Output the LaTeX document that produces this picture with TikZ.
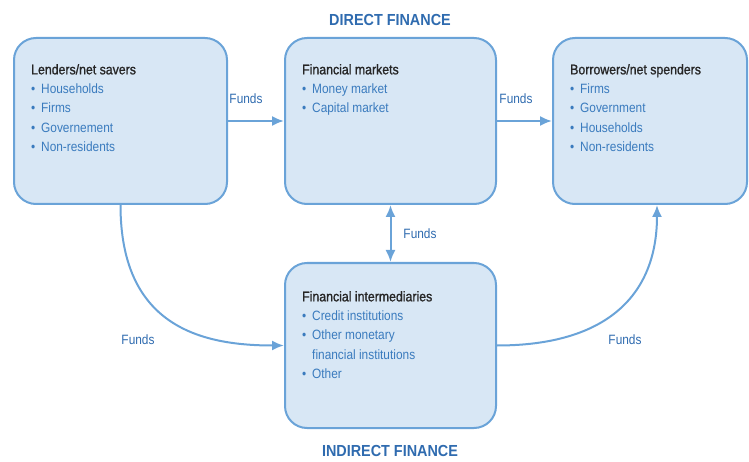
\documentclass[tikz,border=0pt]{standalone}
\usepackage{fontspec}
\setmainfont{Liberation Sans}[FakeStretch=0.88]
\newfontfamily\headfont{Liberation Sans}[FakeStretch=0.88,FakeBold=1.2]
\newfontfamily\titlefont{Liberation Sans}[FakeStretch=0.9]
\usetikzlibrary{arrows.meta,calc}
\definecolor{boxfill}{HTML}{D8E7F5}
\definecolor{boxline}{HTML}{6AA3D8}
\definecolor{itemblue}{HTML}{3A7BBE}
\definecolor{labblue}{HTML}{2F6BAF}
\definecolor{headgray}{HTML}{262626}
\newcommand\bul{\makebox[10pt][l]{\textbullet}}
\newcommand\hd[1]{\textcolor{headgray}{\headfont\fontsize{14}{19}\selectfont #1}}
\begin{document}
\begin{tikzpicture}[x=1pt,y=-1pt,
  box/.style={draw=boxline, fill=boxfill, line width=2pt, rounded corners=22pt, inner sep=0pt},
  txt/.style={anchor=north west, inner sep=0pt, align=left, font=\fontsize{13.5}{19.3}\selectfont, text=itemblue},
  lab/.style={font=\fontsize{13.5}{16}\selectfont, text=labblue},
  ttl/.style={font=\titlefont\bfseries\fontsize{16}{18}\selectfont, text=labblue},
  tip/.tip={Latex[length=12pt,width=10pt]},
  arr/.style={draw=boxline, line width=2pt, -tip},
]
\useasboundingbox (0,0) rectangle (749,462);

\node[box, minimum width=213pt, minimum height=166pt] (L) at (120.5,121) {};
\node[box, minimum width=211pt, minimum height=166pt] (M) at (390.5,121) {};
\node[box, minimum width=194pt, minimum height=166pt] (R) at (650,121) {};
\node[box, minimum width=211pt, minimum height=165pt] (B) at (390.5,345.5) {};

\node[txt] (Lt) at ($(L.north west)+(18,27)$) {\hd{Lenders/net savers}\\ \bul Households\\ \bul Firms\\ \bul Governement\\ \bul Non-residents};
\node[txt] (Mt) at ($(M.north west)+(18,27)$) {\hd{Financial markets}\\ \bul Money market\\ \bul Capital market};
\node[txt] (Rt) at ($(R.north west)+(18,27)$) {\hd{Borrowers/net spenders}\\ \bul Firms\\ \bul Government\\ \bul Households\\ \bul Non-residents};
\node[txt] (Bt) at ($(B.north west)+(18,29)$) {\hd{Financial intermediaries}\\ \bul Credit institutions\\ \bul Other monetary\\ \makebox[10pt]{}financial institutions\\ \bul Other};

\node[ttl] (DF) at (390,20) {DIRECT FINANCE};
\node[ttl] (IF) at (390,451) {INDIRECT FINANCE};

\draw[arr] (L) -- (M);
\draw[arr] (M) -- (R);
\draw[arr, tip-tip] (M.south) -- (B.north);
\draw[arr] (L.south) .. controls +(0,120) and +(-85,0) .. (B.west);
\draw[arr] (B.east) .. controls +(110,0) and +(0,90) .. ([xshift=7pt]R.south);

\node[lab] (f1) at (246,99) {Funds};
\node[lab] (f2) at (516,99) {Funds};
\node[lab] (f3) at (420,234) {Funds};
\node[lab] (f4) at (138,340) {Funds};
\node[lab] (f5) at (625,340) {Funds};
\end{tikzpicture}
\end{document}
